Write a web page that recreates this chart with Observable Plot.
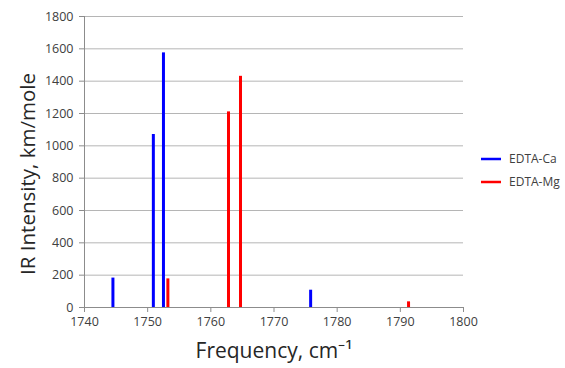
<!DOCTYPE html>
<html>
<head>
<meta charset="utf-8">
<script src="https://cdn.jsdelivr.net/npm/d3@7"></script>
<script src="https://cdn.jsdelivr.net/npm/@observablehq/plot@0.6"></script>
<style>
  html, body { margin: 0; padding: 0; background: #fff; }
  #chart { position: relative; width: 565px; height: 368px; }
</style>
</head>
<body>
<div id="chart"></div>
<script>
const seriesNames = ["EDTA-Ca", "EDTA-Mg"];
const seriesColors = ["#0000ff", "#ff0000"];
const caFreq = [1744.5, 1750.9, 1752.5, 1775.8];
const caInt = [182, 1070, 1575, 107];
const mgFreq = [1753.2, 1762.8, 1764.7, 1791.3];
const mgInt = [177, 1210, 1430, 35];
const xTicks = [1740, 1750, 1760, 1770, 1780, 1790, 1800];
const yTicks = [0, 200, 400, 600, 800, 1000, 1200, 1400, 1600, 1800];
const xLabel = "Frequency, cm\u207B\u00B9";
const yLabel = "IR Intensity, km/mole";

const ca = caFreq.map((f, i) => ({f, v: caInt[i]}));
const mg = mgFreq.map((f, i) => ({f, v: mgInt[i]}));

const font = "'Open Sans', sans-serif";
const plot = Plot.plot({
  width: 565,
  height: 368,
  marginLeft: 84,
  marginRight: 102,
  marginTop: 16,
  marginBottom: 61,
  style: {fontFamily: font, fontSize: "12.5px", color: "#404040", background: "#fff"},
  x: {domain: [1740, 1800]},
  y: {domain: [0, 1800]},
  marks: [
    Plot.gridY(yTicks, {stroke: "#b5b5b5", strokeOpacity: 1, strokeWidth: 1}),
    Plot.ruleX([1740], {stroke: "#8c8c8c"}),
    Plot.ruleY([0], {stroke: "#8c8c8c"}),
    Plot.axisX({ticks: xTicks, tickFormat: d => String(d), tickSize: 5, tickPadding: 5, stroke: "#8c8c8c", label: null, fill: "#404040"}),
    Plot.axisY({ticks: yTicks, tickFormat: d => String(d), tickSize: 5, tickPadding: 6, stroke: "#8c8c8c", label: null, fill: "#404040"}),
    Plot.ruleX(ca, {x: "f", y1: 0, y2: "v", stroke: seriesColors[0], strokeWidth: 3}),
    Plot.ruleX(mg, {x: "f", y1: 0, y2: "v", stroke: seriesColors[1], strokeWidth: 3}),
    Plot.text([xLabel], {frameAnchor: "bottom", dy: 50, fontSize: 21, fill: "#262626", fontFamily: font}),
    Plot.text([yLabel], {frameAnchor: "left", textAnchor: "middle", rotate: -90, dx: -56, dy: 12, fontSize: 20.5, fill: "#262626", fontFamily: font})
  ]
});
document.getElementById("chart").appendChild(plot);

// legend
const svg = d3.select(plot);
const lg = svg.append("g").attr("font-family", font).attr("font-size", 12).attr("fill", "#404040").attr("text-anchor", "start");
seriesNames.forEach((name, i) => {
  const y = 159 + i * 23;
  lg.append("line").attr("x1", 481).attr("x2", 501).attr("y1", y).attr("y2", y)
    .attr("stroke", seriesColors[i]).attr("stroke-width", 2.5);
  lg.append("text").attr("x", 509).attr("y", y).attr("dy", "0.35em").attr("text-anchor", "start").text(name);
});
</script>
</body>
</html>
